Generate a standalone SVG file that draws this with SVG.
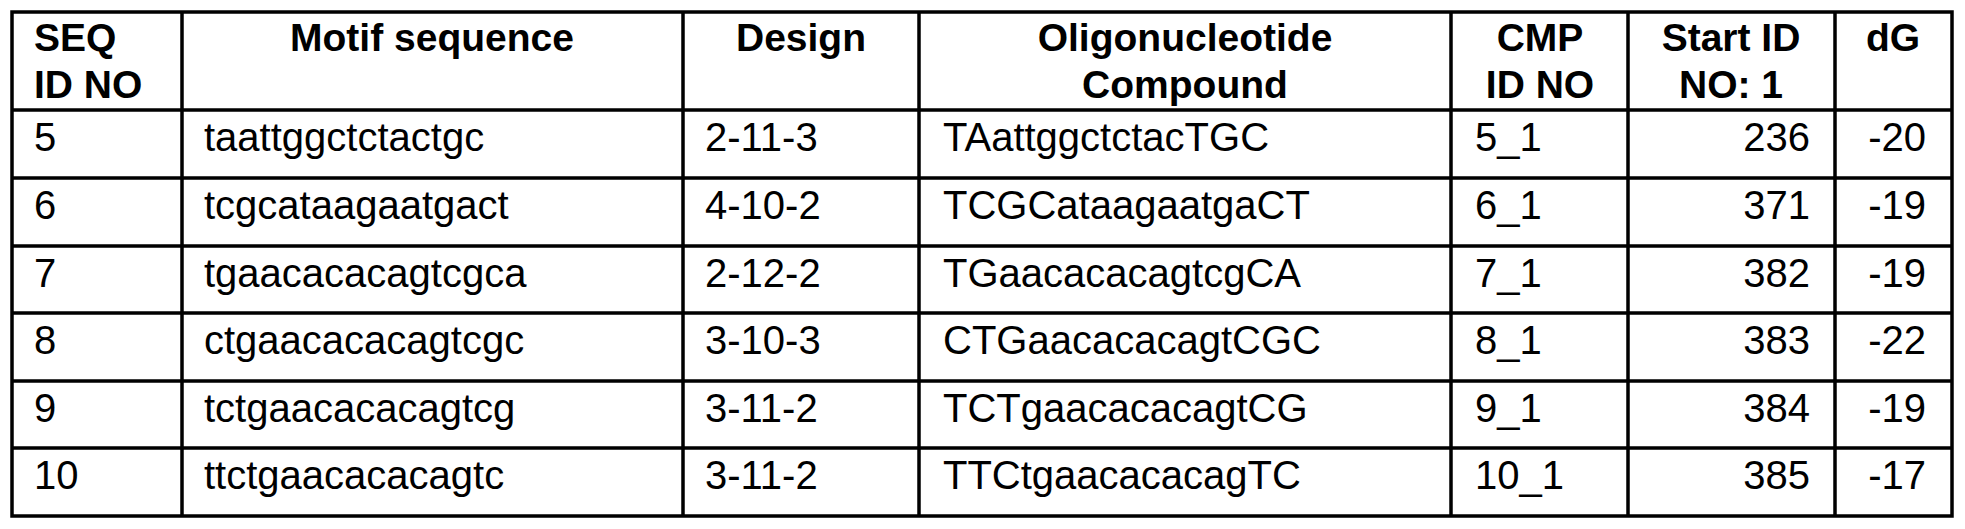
<svg xmlns="http://www.w3.org/2000/svg" width="1965" height="529" viewBox="0 0 1965 529">
<style>
.g{stroke:#000;stroke-width:3.5;fill:none}
text{font-family:"Liberation Sans",Arial,sans-serif;fill:#000}
.h{font-size:39px;font-weight:bold}
.c{text-anchor:middle}
.b{font-size:40px}
.r{text-anchor:end}
</style>
<rect x="0" y="0" width="1965" height="529" fill="#fff"/>
<g id="grid" class="g">
<rect x="12" y="12" width="1940" height="504"/>
<path d="M182 12V516M683 12V516M919 12V516M1451 12V516M1628 12V516M1835 12V516"/>
<path d="M12 110H1952M12 178H1952M12 246H1952M12 313H1952M12 381H1952M12 448H1952"/>
</g>
<g id="header" class="h">
<text x="34" y="51">SEQ</text><text x="34" y="98">ID NO</text>
<text class="c" x="432" y="51">Motif sequence</text>
<text class="c" x="801" y="51">Design</text>
<text class="c" x="1185" y="51">Oligonucleotide</text><text class="c" x="1185" y="98">Compound</text>
<text class="c" x="1540" y="51">CMP</text><text class="c" x="1540" y="98">ID NO</text>
<text class="c" x="1731" y="51">Start ID</text><text class="c" x="1731" y="98">NO: 1</text>
<text class="c" x="1893" y="51">dG</text>
</g>
<g id="rows" class="b">
<g id="r5"><text x="34" y="151">5</text><text x="204" y="151">taattggctctactgc</text><text x="705" y="151">2-11-3</text><text x="943" y="151">TAattggctctacTGC</text><text x="1475" y="151">5_1</text><text class="r" x="1810" y="151">236</text><text class="r" x="1926" y="151">-20</text></g>
<g id="r6"><text x="34" y="219">6</text><text x="204" y="219">tcgcataagaatgact</text><text x="705" y="219">4-10-2</text><text x="943" y="219">TCGCataagaatgaCT</text><text x="1475" y="219">6_1</text><text class="r" x="1810" y="219">371</text><text class="r" x="1926" y="219">-19</text></g>
<g id="r7"><text x="34" y="287">7</text><text x="204" y="287">tgaacacacagtcgca</text><text x="705" y="287">2-12-2</text><text x="943" y="287">TGaacacacagtcgCA</text><text x="1475" y="287">7_1</text><text class="r" x="1810" y="287">382</text><text class="r" x="1926" y="287">-19</text></g>
<g id="r8"><text x="34" y="354">8</text><text x="204" y="354">ctgaacacacagtcgc</text><text x="705" y="354">3-10-3</text><text x="943" y="354">CTGaacacacagtCGC</text><text x="1475" y="354">8_1</text><text class="r" x="1810" y="354">383</text><text class="r" x="1926" y="354">-22</text></g>
<g id="r9"><text x="34" y="422">9</text><text x="204" y="422">tctgaacacacagtcg</text><text x="705" y="422">3-11-2</text><text x="943" y="422">TCTgaacacacagtCG</text><text x="1475" y="422">9_1</text><text class="r" x="1810" y="422">384</text><text class="r" x="1926" y="422">-19</text></g>
<g id="r10"><text x="34" y="489">10</text><text x="204" y="489">ttctgaacacacagtc</text><text x="705" y="489">3-11-2</text><text x="943" y="489">TTCtgaacacacagTC</text><text x="1475" y="489">10_1</text><text class="r" x="1810" y="489">385</text><text class="r" x="1926" y="489">-17</text></g>
</g>
</svg>
